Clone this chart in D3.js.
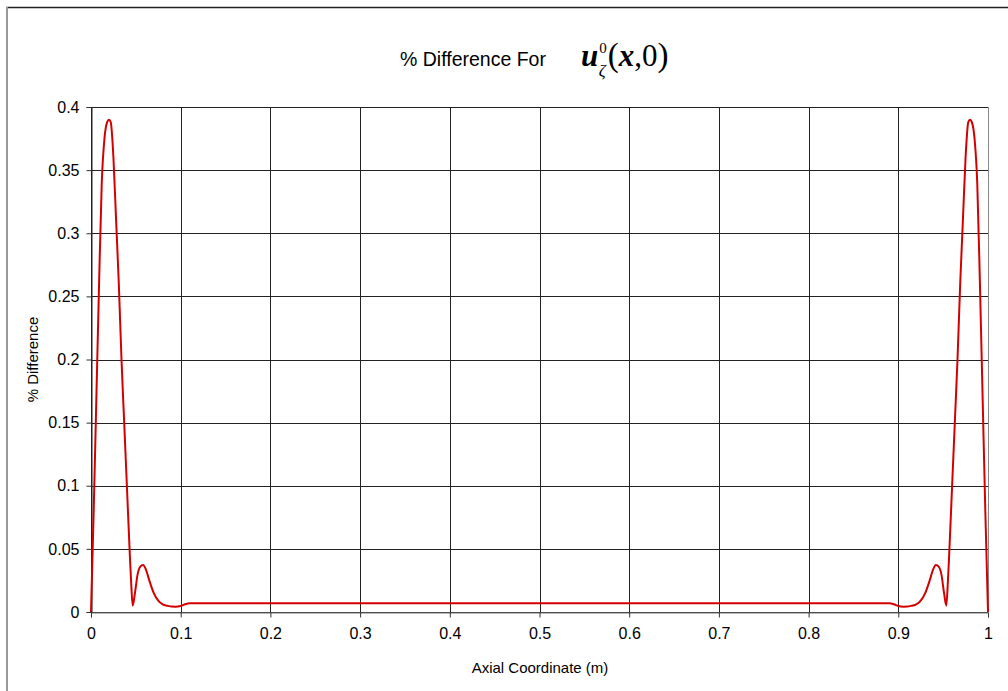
<!DOCTYPE html>
<html>
<head>
<meta charset="utf-8">
<script src="https://cdn.jsdelivr.net/npm/d3@7"></script>
<style>
  html, body { margin: 0; padding: 0; background: #fff; }
  svg { display: block; }
</style>
</head>
<body>
<svg id="chart" width="1008" height="691"></svg>
<script>
// Axial coordinate (m) and percent difference along the curve
const axialX = [
  0, 0.003, 0.006, 0.009, 0.012, 0.015, 0.018, 0.02, 0.022, 0.025, 0.028, 0.031,
  0.034, 0.037, 0.04, 0.043, 0.045, 0.0465, 0.049, 0.052, 0.055, 0.058, 0.061,
  0.065, 0.07, 0.075, 0.08, 0.085, 0.09, 0.094, 0.1, 0.105, 0.11,
  0.2, 0.3, 0.4, 0.5, 0.6, 0.7, 0.8,
  0.89, 0.895, 0.9, 0.906, 0.91, 0.915, 0.92, 0.925, 0.93, 0.935, 0.939, 0.942,
  0.945, 0.948, 0.951, 0.9535, 0.955, 0.957, 0.96, 0.963, 0.966, 0.969, 0.972,
  0.975, 0.978, 0.98, 0.982, 0.985, 0.988, 0.991, 0.994, 0.997, 1
];
const pctDiff = [
  0, 0.08, 0.17, 0.26, 0.34, 0.375, 0.388, 0.39, 0.388, 0.36, 0.31, 0.26,
  0.2, 0.15, 0.1, 0.05, 0.02, 0.005, 0.015, 0.03, 0.036, 0.0372, 0.034,
  0.025, 0.015, 0.009, 0.006, 0.005, 0.0043, 0.0042, 0.0048, 0.0062, 0.0069,
  0.0069, 0.0069, 0.0069, 0.0069, 0.0069, 0.0069, 0.0069,
  0.0069, 0.0062, 0.0048, 0.0042, 0.0043, 0.005, 0.006, 0.009, 0.015, 0.025, 0.034, 0.0372,
  0.036, 0.03, 0.015, 0.005, 0.02, 0.05, 0.1, 0.15, 0.2, 0.26, 0.31,
  0.36, 0.388, 0.39, 0.388, 0.375, 0.34, 0.26, 0.17, 0.08, 0
];
const xTicks = [0, 0.1, 0.2, 0.3, 0.4, 0.5, 0.6, 0.7, 0.8, 0.9, 1];
const yTicks = [0, 0.05, 0.1, 0.15, 0.2, 0.25, 0.3, 0.35, 0.4];

const svg = d3.select("#chart");
const plotLeft = 91, plotRight = 988, plotTop = 107, plotBottom = 612;
const sans = "Arial, 'Liberation Sans', sans-serif";

const x = d3.scaleLinear().domain([0, 1]).range([plotLeft, plotRight]);
const y = d3.scaleLinear().domain([0, 0.4]).range([plotBottom, plotTop]);

// Outer frame (top and left edges)
svg.append("line").attr("x1", 6).attr("x2", 1008).attr("y1", 7.5).attr("y2", 7.5)
  .attr("stroke", "#222").attr("stroke-width", 1.5);
svg.append("line").attr("x1", 7).attr("x2", 7).attr("y1", 7).attr("y2", 691)
  .attr("stroke", "#999").attr("stroke-width", 2);

// Grid
const grid = svg.append("g");
grid.selectAll(".hg").data(yTicks).join("line")
  .attr("x1", plotLeft).attr("x2", plotRight)
  .attr("y1", d => Math.round(y(d)) + 0.5).attr("y2", d => Math.round(y(d)) + 0.5)
  .attr("stroke", "#222").attr("stroke-width", 1);
grid.selectAll(".vg").data(xTicks).join("line")
  .attr("y1", plotTop).attr("y2", plotBottom)
  .attr("x1", d => Math.round(x(d)) + 0.5).attr("x2", d => Math.round(x(d)) + 0.5)
  .attr("stroke", d => d === 1 ? "#888" : "#222").attr("stroke-width", 1);

// Axes
const xAxis = svg.append("g").attr("transform", `translate(0,${Math.round(y(0)) + 0.5})`)
  .call(d3.axisBottom(x).tickValues(xTicks).tickSize(5).tickPadding(10)
    .tickFormat(d => d3.format("")(d)));
xAxis.select(".domain").attr("stroke", "#777");
xAxis.selectAll(".tick line").attr("stroke", "#333");
xAxis.selectAll("text").attr("font-family", sans).attr("font-size", 16).attr("fill", "#000");

const yAxis = svg.append("g").attr("transform", `translate(${Math.round(x(0)) + 0.5},0)`)
  .call(d3.axisLeft(y).tickValues(yTicks).tickSize(5).tickPadding(7)
    .tickFormat(d => d3.format("")(+d.toFixed(2))));
yAxis.select(".domain").attr("stroke", "#222");
yAxis.selectAll(".tick line").attr("stroke", "#333");
yAxis.selectAll("text").attr("font-family", sans).attr("font-size", 16).attr("fill", "#000");

// Curve
const line = d3.line().x((d, i) => x(axialX[i])).y(d => y(d)).curve(d3.curveMonotoneX);
svg.append("path").datum(pctDiff)
  .attr("d", line).attr("fill", "none")
  .attr("stroke", "#d40000").attr("stroke-width", 2).attr("stroke-linejoin", "round");

// Axis titles
svg.append("text").attr("x", 540).attr("y", 673)
  .attr("text-anchor", "middle")
  .attr("font-family", sans).attr("font-size", 15)
  .text("Axial Coordinate (m)");
svg.append("text").attr("transform", `translate(38,${(plotTop + plotBottom) / 2}) rotate(-90)`)
  .attr("text-anchor", "middle")
  .attr("font-family", sans).attr("font-size", 15)
  .text("% Difference");

// Title
const title = svg.append("text").attr("x", 400).attr("y", 66)
  .attr("font-family", sans).attr("font-size", 19.5);
title.append("tspan").text("% Difference For");
const serif = "'Liberation Serif', 'Times New Roman', serif";
title.append("tspan").attr("x", 581).attr("font-family", serif).attr("font-size", 31)
  .attr("font-style", "italic").attr("font-weight", "bold").text("u");
title.append("tspan").attr("dy", -13).attr("dx", 1).attr("font-family", serif).attr("font-size", 15).text("0");
title.append("tspan").attr("dx", -8).attr("dy", 23).attr("font-family", serif)
  .attr("font-style", "italic").attr("font-size", 17).text("ζ");
title.append("tspan").attr("dy", -10).attr("dx", 2).attr("font-family", serif).attr("font-size", 33).text("(");
title.append("tspan").attr("font-family", serif).attr("font-size", 31)
  .attr("font-style", "italic").attr("font-weight", "bold").text("x");
title.append("tspan").attr("font-family", serif).attr("font-size", 31).text(",0");
title.append("tspan").attr("font-family", serif).attr("font-size", 33).text(")");
</script>
</body>
</html>
